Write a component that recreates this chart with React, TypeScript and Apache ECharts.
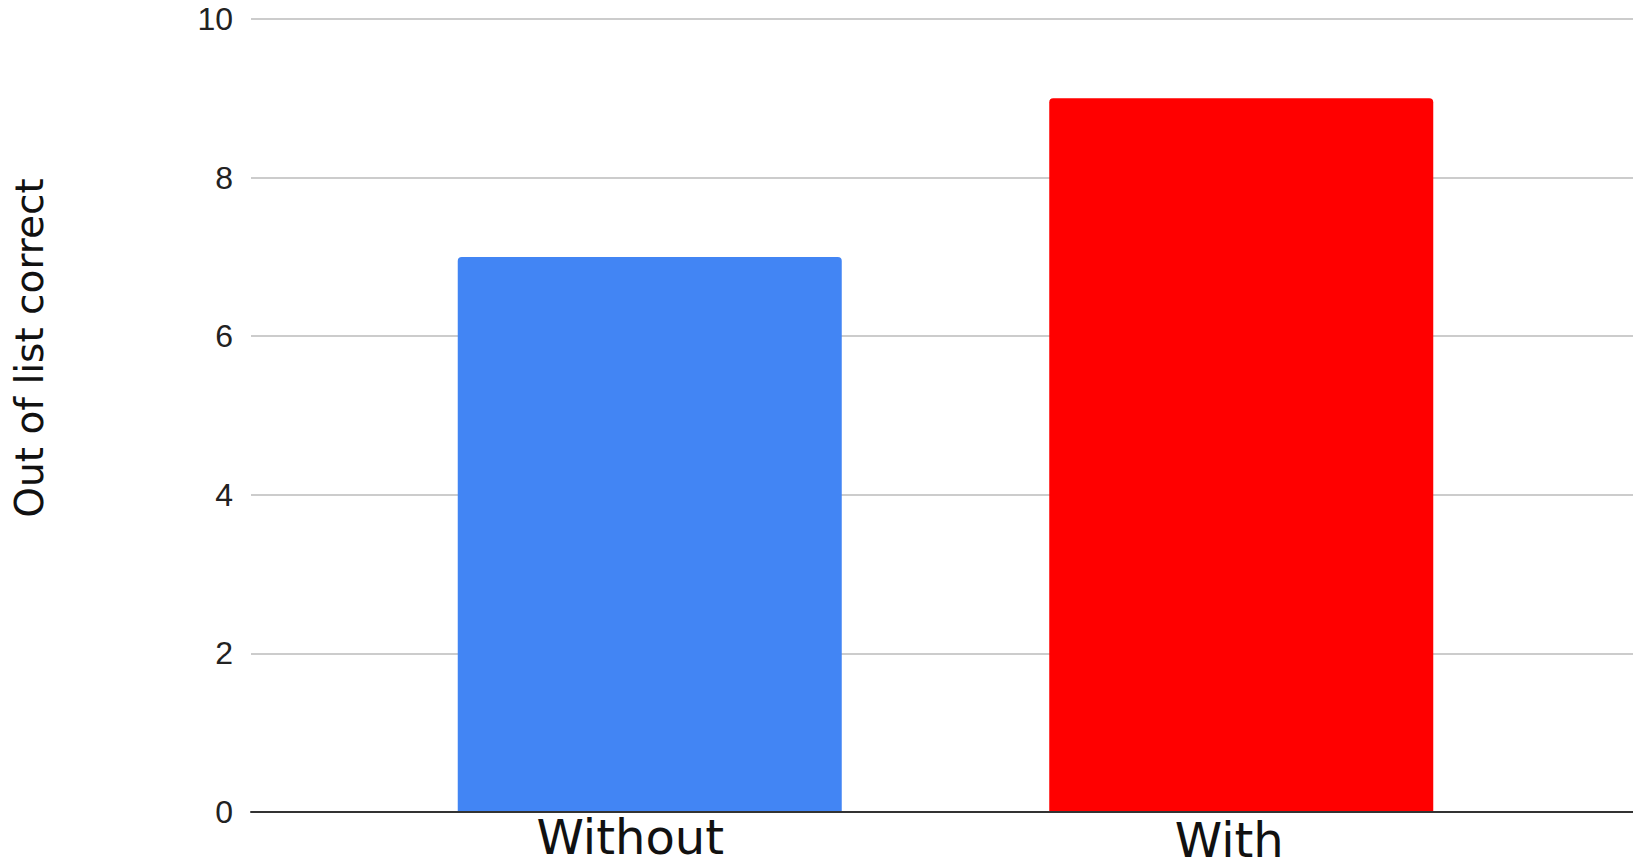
import React, { useEffect, useRef } from "react";
import * as echarts from "echarts";

// Chart data
const categories = ["Without", "With"];
const scores = [7, 9];
const barColors = ["#4285F4", "#FF0000"];
const yTicks = { min: 0, max: 10, interval: 2 };
const yTitle = "Out of list correct";

const LABEL_FONT = "'DejaVu Sans', 'Open Sans', sans-serif";
const TICK_FONT = "'Liberation Sans', Arial, sans-serif";

export default function App() {
  const ref = useRef<HTMLDivElement>(null);

  useEffect(() => {
    if (!ref.current) return;
    const chart = echarts.init(ref.current, undefined, { renderer: "svg" });

    const gridTop = 19;
    const gridBottom = 54;

    chart.setOption({
      animation: false,
      backgroundColor: "#ffffff",
      grid: [
        // full-width grid carrying the value axis and the gridlines
        { left: 251, right: 0, top: gridTop, bottom: gridBottom },
        // inner grid holding the bars
        { left: 354, right: 96, top: gridTop, bottom: gridBottom },
      ],
      xAxis: [
        {
          gridIndex: 0,
          type: "value",
          min: 0,
          max: 1,
          z: 5,
          axisLine: { show: true, lineStyle: { color: "#333333", width: 2 } },
          axisTick: { show: false },
          axisLabel: { show: false },
          splitLine: { show: false },
        },
        {
          gridIndex: 1,
          type: "category",
          data: categories,
          axisLine: { show: false },
          axisTick: { show: false },
          axisLabel: {
            margin: 5,
            interval: 0,
            formatter: (v: string, i: number) => `{c${i}|${v}}`,
            rich: {
              c0: {
                fontFamily: LABEL_FONT,
                fontSize: 48,
                lineHeight: 40,
                color: "#111111",
                padding: [0, 39, 0, 0],
              },
              c1: {
                fontFamily: LABEL_FONT,
                fontSize: 48,
                lineHeight: 40,
                color: "#111111",
                padding: [5, 24, 0, 0],
              },
            },
          },
          splitLine: { show: false },
        },
      ],
      yAxis: [
        {
          gridIndex: 0,
          type: "value",
          min: yTicks.min,
          max: yTicks.max,
          interval: yTicks.interval,
          axisLine: { show: false },
          axisTick: { show: false },
          axisLabel: {
            margin: 18,
            fontFamily: TICK_FONT,
            fontSize: 32,
            color: "#222222",
          },
          splitLine: { show: true, lineStyle: { color: "#cccccc", width: 2 } },
        },
        {
          gridIndex: 1,
          type: "value",
          min: yTicks.min,
          max: yTicks.max,
          interval: yTicks.interval,
          show: false,
          splitLine: { show: false },
        },
      ],
      graphic: [
        {
          type: "text",
          x: 29,
          y: 348,
          rotation: Math.PI / 2,
          style: {
            text: yTitle,
            font: `39px ${LABEL_FONT}`,
            fill: "#111111",
            align: "center",
            verticalAlign: "middle",
          },
        },
      ],
      series: [
        {
          type: "bar",
          xAxisIndex: 1,
          yAxisIndex: 1,
          barWidth: 384,
          data: scores.map((v, i) => ({
            value: v,
            itemStyle: { color: barColors[i], borderRadius: [4, 4, 0, 0] },
          })),
        },
      ],
    });

    return () => chart.dispose();
  }, []);

  return (
    <div
      ref={ref}
      style={{ position: "fixed", left: 0, top: 0, width: 1633, height: 866 }}
    />
  );
}
